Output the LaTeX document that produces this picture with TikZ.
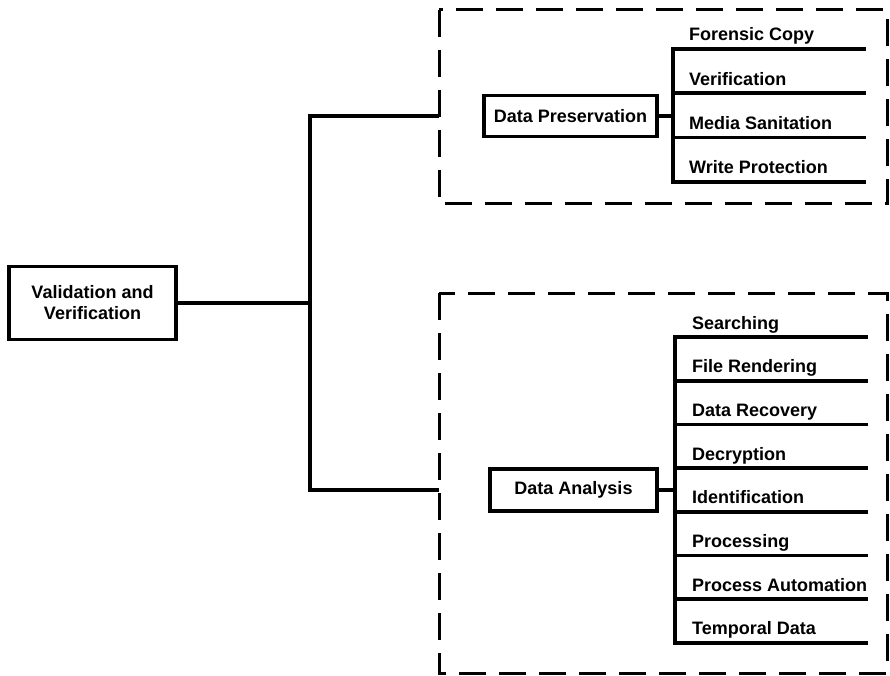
\documentclass[tikz,border=0pt]{standalone}
\usepackage{fontspec}
\setmainfont{Liberation Sans}
\begin{document}
\begin{tikzpicture}[x=1pt,y=-1pt,line join=miter,
  box/.style={draw,line width=3.6pt,inner sep=0pt,align=center,
    font=\fontsize{18}{21}\selectfont\bfseries},
  leaf/.style={anchor=base west,inner sep=0pt,
    font=\fontsize{18}{21}\selectfont\bfseries},
  frame/.style={line width=3pt,dash pattern=on 27pt off 13pt},
  link/.style={line width=3.6pt}]

\useasboundingbox (0,0) rectangle (890,676);

% 参数（括号竖线位置、分支线右端、行距）
\def\bxP{673}  \def\exP{866}  \def\dyP{44.3}
\def\bxA{675}  \def\exA{868}  \def\dyA{43.7}

% 三个方框
\node[box,minimum width=167pt,minimum height=73pt] (vv) at (92.5,303) {Validation and\\Verification};
\node[box,minimum width=173pt,minimum height=41pt] (dp) at (570.5,116) {Data Preservation};
\node[box,minimum width=167pt,minimum height=42pt] (da) at (573.5,490) {Data Analysis};

% 虚线框
\draw[frame] (439,10) rectangle (887,204);
\draw[frame] (439,293) rectangle (887,673);

% 主干：根节点 -> 两个虚线框
\coordinate (trunk) at (310,303);
\coordinate (inP) at (439,116);
\coordinate (inA) at (439,490);
\draw[link] (vv.east) -- (trunk);
\draw[link] (inP) -| (trunk) |- (inA);

% 数据保存分支
\coordinate (bP) at (\bxP,116);
\draw[link] (dp.east) -- (bP);
\foreach \t [count=\i from 0] in {Forensic Copy,Verification,Media Sanitation,Write Protection}{
  \pgfmathsetmacro{\yy}{49+\dyP*\i}
  \coordinate (pl\i) at (\bxP,\yy);
  \coordinate (pr\i) at (\exP,\yy);
  \node[leaf] (p\i) at (689,\yy-8) {\t};
  \draw[link] (pl\i) -- (pr\i);
}
\draw[link,line cap=rect] (pl0) -- (pl3);

% 数据分析分支
\coordinate (bA) at (\bxA,490);
\draw[link] (da.east) -- (bA);
\foreach \t [count=\i from 0] in {Searching,File Rendering,Data Recovery,Decryption,
    Identification,Processing,Process Automation,Temporal Data}{
  \pgfmathsetmacro{\yy}{337+\dyA*\i}
  \coordinate (al\i) at (\bxA,\yy);
  \coordinate (ar\i) at (\exA,\yy);
  \node[leaf] (a\i) at (692,\yy-8) {\t};
  \draw[link] (al\i) -- (ar\i);
}
\draw[link,line cap=rect] (al0) -- (al7);

\end{tikzpicture}
\end{document}
